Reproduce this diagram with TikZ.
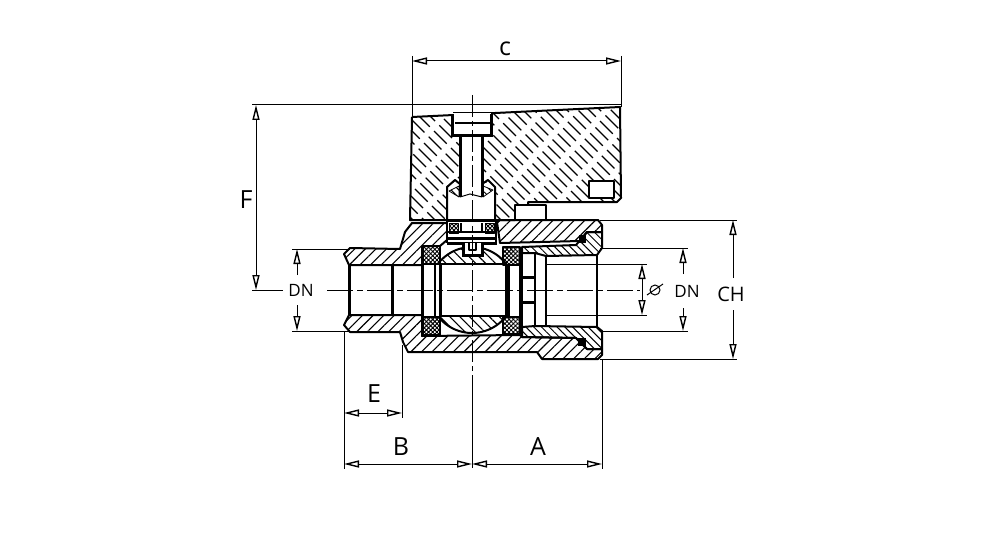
\documentclass[tikz,border=0pt]{standalone}
\usepackage{fontspec}
\setmainfont{Open Sans}
\usepackage{tikz}
\usetikzlibrary{calc}
\usetikzlibrary{arrows.meta}
\usetikzlibrary{patterns.meta}
\tikzset{
	outline/.style={line width=2pt,line join=round},
	heavy/.style={line width=3pt},
	thinline/.style={line width=1pt},
	hatchR/.style={outline,pattern={Lines[angle=45,distance=7.5pt,line width=1.1pt]}},
	hatchL/.style={outline,pattern={Lines[angle=135,distance=7pt,line width=1.1pt]}},
	hatchT/.style={outline,pattern={Lines[angle=135,distance=5.5pt,line width=1pt]}},
	mesh/.style={outline,pattern={Hatch[angle=45,distance=3pt,line width=0.9pt]}},
	dimtip/.style={thinline,-{Triangle[open,length=15pt,width=7pt,line width=1.4pt]}},
	dimboth/.style={thinline,{Triangle[open,length=15pt,width=7pt,line width=1.4pt]}-{Triangle[open,length=15pt,width=7pt,line width=1.4pt]}},
	biglabel/.style={font=\fontsize{25}{25}\selectfont,inner sep=0pt},
	midlabel/.style={font=\fontsize{20}{20}\selectfont,inner sep=0pt},
	dnlabel/.style={font=\fontsize{17}{17}\selectfont,inner sep=0pt}
}
\begin{document}
\begin{tikzpicture}[x=1pt,y=-1pt]
	\useasboundingbox (0,0) rectangle (1000,540);
	%handle
	\begin{scope}
		\clip (412,117) -- (620,107) -- (621,198) -- (617,202) -- (528,202) -- (528,205) -- (515,205) -- (515,220) -- (410,220) -- cycle;
		\foreach \k [evaluate=\k as \ph using {mod(\k*7,23)}] in {250,261,...,640}
			\draw[line width=1.1pt,dash pattern=on 18pt off 6pt,dash phase=\ph pt] (\k,90) -- ++(150,150);
	\end{scope}
	\draw[outline] (412,117) -- (620,107) -- (621,198) -- (617,202) -- (528,202) -- (528,205);
	\draw[outline] (515,220) -- (410,220) -- (412,117);
	\filldraw[outline,fill=white] (589,181) rectangle (614,198);
	\filldraw[outline,fill=white] (515,205) rectangle (546,220);
	%stem and screw
	\fill[white] (452,113) rectangle (491,136);
	\fill[white] (459,136) rectangle (484,183);
	\fill[white] (447,183) rectangle (495,220);
	\draw[thinline] (453,113) -- (490,113);
	\draw[heavy] (452,114) -- (452,136) -- (491,136) -- (491,114);
	\draw[outline] (455,123) -- (490,123);
	\draw[heavy] (460,136) -- (460,197);
	\draw[heavy] (482,136) -- (482,197);
	\draw[thinline] (460,197) -- (470,194) -- (482,197);
	\draw[outline] (447,220) -- (447,187) -- (455,180) -- (460,184);
	\draw[outline] (495,220) -- (495,187) -- (488,180) -- (482,184);
	\filldraw[hatchT,line width=0.8pt] (449,191) -- (459,186) -- (459,197) -- cycle;
	\filldraw[hatchT,line width=0.8pt] (483,186) -- (493,190) -- (483,197) -- cycle;
	%body
	\filldraw[hatchR] (344,254) -- (350,248) -- (400,249) -- (405,232) -- (412,223) -- (447,223) -- (447,240) -- (440,246) -- (422,246) -- (422,265) -- (349,265) -- cycle;
	\filldraw[hatchR] (344,325) -- (350,332) -- (400,332) -- (403,342) -- (408,352) -- (537,352) -- (542,359) -- (598,359) -- (602,355) -- (602,349) -- (587,349) -- (576,338) -- (522,337) -- (520,335) -- (422,336) -- (422,315) -- (349,315) -- cycle;
	\filldraw[hatchR] (497,222) -- (500,220) -- (598,220) -- (602,225) -- (602,232) -- (587,232) -- (580,241) -- (500,243) -- cycle;
	%threaded insert
	\filldraw[hatchT] (522,247) -- (576,245) -- (587,232) -- (602,232) -- (602,248) -- (597,255) -- (546,256) -- (535,253) -- (522,253) -- cycle;
	\filldraw[hatchT] (522,327) -- (535,326) -- (597,327) -- (602,331) -- (602,349) -- (587,349) -- (576,338) -- (522,337) -- cycle;
	\draw[outline] (546,256) -- (546,326);
	\draw[outline] (535,253) -- (535,326);
	\draw[outline] (597,255) -- (597,327);
	\draw[outline] (522,247) -- (522,337);
	\draw[heavy] (522,277) -- (535,277);
	\draw[heavy] (522,302) -- (535,302);
	\fill (579,235) rectangle (586,243);
	\fill (578,338) rectangle (586,346);
	%ball
	\begin{scope}
		\clip (425,230) rectangle (520,264);
		\filldraw[hatchL] (472,290) circle (43pt);
	\end{scope}
	\begin{scope}
		\clip (425,316) rectangle (520,345);
		\filldraw[hatchL] (472,290) circle (43pt);
	\end{scope}
	\draw[outline] (440,264) -- (505,264);
	\draw[outline] (440,316) -- (505,316);
	%seats
	\filldraw[mesh] (423,246) rectangle (440,264);
	\filldraw[mesh] (423,317) rectangle (440,335);
	\filldraw[mesh] (503,247) rectangle (520,265);
	\filldraw[mesh] (503,317) rectangle (520,334);
	\draw[heavy] (422,264) -- (422,317);
	\draw[outline] (435,264) -- (435,317);
	\draw[heavy] (440,264) -- (440,317);
	\fill (505,265) rectangle (510,317);
	\draw[outline] (520,265) -- (520,317);
	\draw[heavy] (392,265) -- (392,315);
	\draw[heavy] (349,265) -- (349,315);
	%stem seal
	\fill[white] (447,219) rectangle (497,243);
	\draw[heavy] (447,220) -- (497,220);
	\draw[outline] (447,232) -- (497,232);
	\draw[heavy] (447,238) -- (497,238);
	\draw[heavy] (447,243) -- (497,243);
	\draw[outline] (447,220) -- (447,243);
	\draw[outline] (496,220) -- (496,243);
	\filldraw[mesh,line width=0.8pt] (449,223) rectangle (458,233);
	\filldraw[mesh,line width=0.8pt] (485,223) rectangle (494,233);
	\draw[outline] (461,223) -- (461,232);
	\draw[outline] (482,223) -- (482,232);
	\filldraw[heavy,fill=white] (463,243) -- (463,255) -- (482,255) -- (482,243);
	\draw[outline] (469,243) -- (469,250) -- (476,250) -- (476,243);
	%centre lines
	\draw[thinline,dash pattern=on 26pt off 4pt on 6pt off 4pt] (327,290) -- (640,290);
	\draw[thinline,dash pattern=on 22pt off 4pt on 5pt off 4pt] (472,95) -- (472,375);
	\draw[thinline] (472,375) -- (472,468);
	%dimension c
	\node[biglabel] (labelC) at (505,49) {c};
	\coordinate (cL) at (412,61);
	\coordinate (cR) at (621,61);
	\draw[thinline] (412,56) -- (412,117);
	\draw[thinline] (621,56) -- (621,107);
	\draw[dimboth] (cL) -- (cR);
	%dimension F
	\node[biglabel] (labelF) at (246,200) {F};
	\coordinate (fT) at (256,105);
	\coordinate (fB) at (256,290);
	\draw[thinline] (252,105) -- (621,105);
	\draw[dimboth] (fT) -- (fB);
	%dimension DN left
	\node[dnlabel] (labelDNl) at (301,290) {DN};
	\coordinate (dnlT) at (297,249);
	\coordinate (dnlB) at (297,331);
	\draw[thinline] (252,290) -- (283,290);
	\draw[thinline] (292,249) -- (350,249);
	\draw[thinline] (292,331) -- (350,331);
	\draw[dimtip] (297,275) -- (dnlT);
	\draw[dimtip] (297,305) -- (dnlB);
	%dimension E
	\node[biglabel] (labelE) at (374,394) {E};
	\coordinate (eL) at (344,413);
	\coordinate (eR) at (402,413);
	\draw[thinline] (402,345) -- (402,418);
	\draw[dimboth] (eL) -- (eR);
	%dimension B
	\node[biglabel] (labelB) at (401,447) {B};
	\coordinate (bL) at (344,464);
	\coordinate (bR) at (472,464);
	\draw[thinline] (344,332) -- (344,469);
	\draw[dimboth] (bL) -- (bR);
	%dimension A
	\node[biglabel] (labelA) at (538,447) {A};
	\coordinate (aR) at (602,464);
	\draw[thinline] (602,360) -- (602,469);
	\draw[dimboth] (bR) -- (aR);
	%dimension diameter
	\coordinate (oT) at (642,264);
	\coordinate (oB) at (642,315);
	\draw[thinline] (546,264) -- (647,264);
	\draw[thinline] (546,315) -- (647,315);
	\draw[dimboth] (oT) -- (oB);
	\draw[thinline] (655,290) circle (5pt);
	\draw[thinline] (647,295) -- (663,284);
	%dimension DN right
	\node[dnlabel] (labelDNr) at (687,291) {DN};
	\coordinate (dnrT) at (683,248);
	\coordinate (dnrB) at (683,331);
	\draw[thinline] (600,248) -- (688,248);
	\draw[thinline] (600,331) -- (688,331);
	\draw[dimtip] (683,274) -- (dnrT);
	\draw[dimtip] (683,308) -- (dnrB);
	%dimension CH
	\node[midlabel] (labelCH) at (731,294) {CH};
	\coordinate (chT) at (733,220);
	\coordinate (chB) at (733,359);
	\draw[thinline] (600,220) -- (737,220);
	\draw[thinline] (600,359) -- (737,359);
	\draw[dimtip] (733,278) -- (chT);
	\draw[dimtip] (733,310) -- (chB);
\end{tikzpicture}
\end{document}
